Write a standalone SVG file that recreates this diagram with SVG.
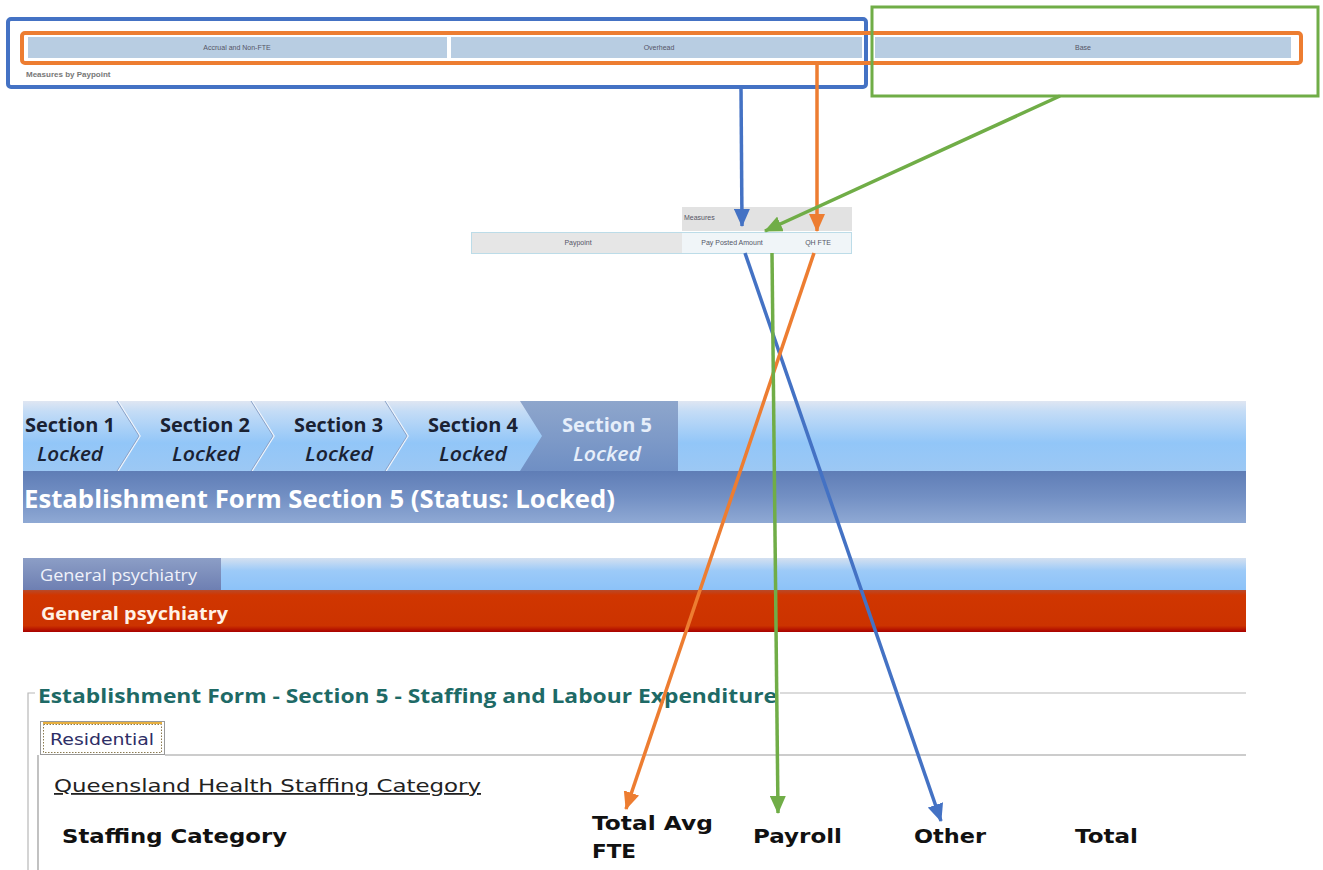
<svg xmlns="http://www.w3.org/2000/svg" width="1323" height="870" viewBox="0 0 1323 870">
  <style>
    .tiny { font-family: "Liberation Sans", Arial, sans-serif; font-size: 7px; fill: #556; }
    .sec { font-family: "Open Sans", "Liberation Sans", sans-serif; font-weight: bold; font-size: 19px; fill: #1a2233; }
    .lock { font-family: "Open Sans", "Liberation Sans", sans-serif; font-style: italic; font-weight: 600; font-size: 19px; fill: #1a2233; }
    .hdr { font-family: "DejaVu Sans", Verdana, sans-serif; font-weight: bold; font-size: 20px; fill: #111; }
    .conn { fill: none; stroke-width: 3.5; }
  </style>
  <defs>
    <linearGradient id="gSecBar" x1="0" y1="0" x2="0" y2="1">
      <stop offset="0" stop-color="#dfe6f2"/>
      <stop offset="0.15" stop-color="#c4dcf6"/>
      <stop offset="0.6" stop-color="#92c6f8"/>
      <stop offset="1" stop-color="#9cc8f4"/>
    </linearGradient>
    <linearGradient id="gSec5" x1="0" y1="0" x2="0" y2="1">
      <stop offset="0" stop-color="#8ea6cc"/>
      <stop offset="1" stop-color="#6f8fc4"/>
    </linearGradient>
    <linearGradient id="gTitle" x1="0" y1="0" x2="0" y2="1">
      <stop offset="0" stop-color="#5f7db6"/>
      <stop offset="0.5" stop-color="#7390c4"/>
      <stop offset="1" stop-color="#8fa9d4"/>
    </linearGradient>
    <linearGradient id="gPsyTab" x1="0" y1="0" x2="0" y2="1">
      <stop offset="0" stop-color="#8c9ec6"/>
      <stop offset="1" stop-color="#6e7fb2"/>
    </linearGradient>
    <linearGradient id="gPsyBar" x1="0" y1="0" x2="0" y2="1">
      <stop offset="0" stop-color="#d4e0f0"/>
      <stop offset="0.4" stop-color="#9ccaf8"/>
      <stop offset="1" stop-color="#8cc2f8"/>
    </linearGradient>
    <linearGradient id="gRed" x1="0" y1="0" x2="0" y2="1">
      <stop offset="0" stop-color="#b84a2a"/>
      <stop offset="0.12" stop-color="#d03600"/>
      <stop offset="0.85" stop-color="#cc3300"/>
      <stop offset="1" stop-color="#a80000"/>
    </linearGradient>
    <marker id="mBlue" markerUnits="userSpaceOnUse" markerWidth="18" markerHeight="16" refX="17" refY="8" orient="auto">
      <path d="M0,0 L18,8 L0,16 Z" fill="#4472c4"/>
    </marker>
    <marker id="mOrange" markerUnits="userSpaceOnUse" markerWidth="18" markerHeight="16" refX="17" refY="8" orient="auto">
      <path d="M0,0 L18,8 L0,16 Z" fill="#ed7d31"/>
    </marker>
    <marker id="mGreen" markerUnits="userSpaceOnUse" markerWidth="18" markerHeight="16" refX="17" refY="8" orient="auto">
      <path d="M0,0 L18,8 L0,16 Z" fill="#70ad47"/>
    </marker>
  </defs>

  <rect width="1323" height="870" fill="#ffffff"/>

  <!-- measure column headers -->
  <g id="measure-headers">
    <rect x="28" y="37" width="419" height="21" fill="#b8cde2"/>
    <rect x="451" y="37" width="411" height="21" fill="#b8cde2"/>
    <rect x="875" y="37" width="416" height="21" fill="#b8cde2"/>
    <text class="tiny" x="237" y="50" text-anchor="middle">Accrual and Non-FTE</text>
    <text class="tiny" x="659" y="50" text-anchor="middle">Overhead</text>
    <text class="tiny" x="1083" y="50" text-anchor="middle">Base</text>
    <text x="26" y="77" font-family="Liberation Sans, Arial, sans-serif" font-size="8" font-weight="bold" fill="#777">Measures by Paypoint</text>
  </g>

  <!-- highlight frames -->
  <g id="frame-blue">
    <rect x="8" y="19" width="858" height="68" rx="3" fill="none" stroke="#4472c4" stroke-width="4"/>
  </g>
  <g id="frame-orange">
    <rect x="22" y="33" width="1279" height="30" rx="3" fill="none" stroke="#ed7d31" stroke-width="4"/>
  </g>
  <g id="frame-green">
    <rect x="872" y="7" width="446" height="89" fill="none" stroke="#70ad47" stroke-width="3"/>
  </g>

  <!-- measures table -->
  <g id="measures-table">
    <rect x="682" y="207" width="170" height="24" fill="#e2e2e2"/>
    <text class="tiny" x="684" y="220" fill="#666">Measures</text>
    <rect x="471.5" y="232.5" width="380" height="21" fill="#f0f5f8" stroke="#bcdce8" stroke-width="1"/>
    <rect x="472" y="233" width="210" height="20" fill="#e6e6e6"/>
    <text class="tiny" x="578" y="245" text-anchor="middle" fill="#666">Paypoint</text>
    <text class="tiny" x="732" y="245" text-anchor="middle" fill="#666">Pay Posted Amount</text>
    <text class="tiny" x="818" y="245" text-anchor="middle" fill="#666">QH FTE</text>
  </g>

  <!-- section navigation -->
  <g id="section-nav">
    <rect x="23" y="401" width="1223" height="70" fill="url(#gSecBar)"/>
    <path d="M520,401 L678,401 L678,471 L520,471 L542,436 Z" fill="url(#gSec5)"/>
    <g fill="none" stroke="#eef4fc" stroke-width="1.5">
      <path d="M118,401 L140,436 L118,471"/>
      <path d="M252,401 L274,436 L252,471"/>
      <path d="M386,401 L408,436 L386,471"/>
    </g>
    <g fill="none" stroke="#8aa2c8" stroke-width="1">
      <path d="M117,401 L139,436 L117,471"/>
      <path d="M251,401 L273,436 L251,471"/>
      <path d="M385,401 L407,436 L385,471"/>
    </g>
    <text class="sec" x="25" y="432" textLength="90" lengthAdjust="spacingAndGlyphs">Section 1</text>
    <text class="lock" x="37" y="461" textLength="66" lengthAdjust="spacingAndGlyphs">Locked</text>
    <text class="sec" x="160" y="432" textLength="90" lengthAdjust="spacingAndGlyphs">Section 2</text>
    <text class="lock" x="172" y="461" textLength="68" lengthAdjust="spacingAndGlyphs">Locked</text>
    <text class="sec" x="294" y="432" textLength="89" lengthAdjust="spacingAndGlyphs">Section 3</text>
    <text class="lock" x="305" y="461" textLength="68" lengthAdjust="spacingAndGlyphs">Locked</text>
    <text class="sec" x="428" y="432" textLength="90" lengthAdjust="spacingAndGlyphs">Section 4</text>
    <text class="lock" x="439" y="461" textLength="68" lengthAdjust="spacingAndGlyphs">Locked</text>
    <text class="sec" x="562" y="432" textLength="90" lengthAdjust="spacingAndGlyphs" style="fill:#e6eefa">Section 5</text>
    <text class="lock" x="573" y="461" textLength="68" lengthAdjust="spacingAndGlyphs" style="fill:#e6eefa">Locked</text>
  </g>

  <!-- form title bar -->
  <g id="title-bar">
    <rect x="23" y="471" width="1223" height="52" fill="url(#gTitle)"/>
    <text x="24" y="508" font-family="Open Sans, Liberation Sans, sans-serif" font-weight="bold" font-size="25" fill="#ffffff" textLength="591" lengthAdjust="spacingAndGlyphs">Establishment Form Section 5 (Status: Locked)</text>
  </g>

  <!-- service tab and banner -->
  <g id="service-tab">
    <rect x="23" y="558" width="1223" height="32" fill="url(#gPsyBar)"/>
    <rect x="23" y="558" width="198" height="32" fill="url(#gPsyTab)"/>
    <text x="40" y="581" font-family="Open Sans, Liberation Sans, sans-serif" font-size="16" fill="#f0f2fa" textLength="157" lengthAdjust="spacingAndGlyphs">General psychiatry</text>
  </g>
  <g id="service-banner">
    <rect x="23" y="590" width="1223" height="42" fill="url(#gRed)"/>
    <text x="41" y="620" font-family="Open Sans, Liberation Sans, sans-serif" font-weight="bold" font-size="18" fill="#fff2e6" textLength="187" lengthAdjust="spacingAndGlyphs">General psychiatry</text>
  </g>

  <!-- staffing fieldset -->
  <g id="staffing-form">
    <path d="M28,870 L28,693 L35,693 M780,693 L1246,693" fill="none" stroke="#b8b8b8" stroke-width="1.2"/>
    <text x="38" y="703" font-family="Open Sans, Liberation Sans, sans-serif" font-weight="bold" font-size="19" fill="#1e6a66" textLength="739" lengthAdjust="spacingAndGlyphs">Establishment Form - Section 5 - Staffing and Labour Expenditure</text>
    <path d="M38,870 L38,755 M165,755 L1246,755" fill="none" stroke="#999" stroke-width="1.2"/>
    <rect x="40.5" y="721.5" width="124" height="33" fill="#ffffff" stroke="#999" stroke-width="1"/>
    <rect x="43.5" y="724.5" width="118" height="28" fill="none" stroke="#8a7a50" stroke-width="1" stroke-dasharray="1.5 1.5"/>
    <line x1="43" y1="723" x2="162" y2="723" stroke="#e8b040" stroke-width="2"/>
    <text x="50" y="745" font-family="DejaVu Sans, Verdana, sans-serif" font-size="15" fill="#2e2e66" textLength="104" lengthAdjust="spacingAndGlyphs">Residential</text>
    <text x="54" y="792" font-family="DejaVu Sans, Verdana, sans-serif" font-size="18" fill="#222" text-decoration="underline" textLength="427" lengthAdjust="spacingAndGlyphs">Queensland Health Staffing Category</text>
    <text class="hdr" x="62" y="843" textLength="225" lengthAdjust="spacingAndGlyphs">Staffing Category</text>
    <text class="hdr" x="592" y="830" textLength="121" lengthAdjust="spacingAndGlyphs">Total Avg</text>
    <text class="hdr" x="592" y="858" textLength="44" lengthAdjust="spacingAndGlyphs">FTE</text>
    <text class="hdr" x="753" y="843" textLength="89" lengthAdjust="spacingAndGlyphs">Payroll</text>
    <text class="hdr" x="914" y="843" textLength="72" lengthAdjust="spacingAndGlyphs">Other</text>
    <text class="hdr" x="1075" y="843" textLength="63" lengthAdjust="spacingAndGlyphs">Total</text>
  </g>

  <!-- connectors -->
  <g id="connectors">
    <line class="conn" x1="741" y1="87" x2="742" y2="226" stroke="#4472c4" marker-end="url(#mBlue)"/>
    <line class="conn" x1="817" y1="63" x2="817" y2="231" stroke="#ed7d31" marker-end="url(#mOrange)"/>
    <line class="conn" x1="1060" y1="96" x2="765" y2="231" stroke="#70ad47" marker-end="url(#mGreen)"/>
    <line class="conn" x1="745" y1="253" x2="941" y2="821" stroke="#4472c4" marker-end="url(#mBlue)"/>
    <line class="conn" x1="814" y1="253" x2="626" y2="809" stroke="#ed7d31" marker-end="url(#mOrange)"/>
    <line class="conn" x1="772" y1="253" x2="778" y2="813" stroke="#70ad47" marker-end="url(#mGreen)"/>
  </g>
</svg>
